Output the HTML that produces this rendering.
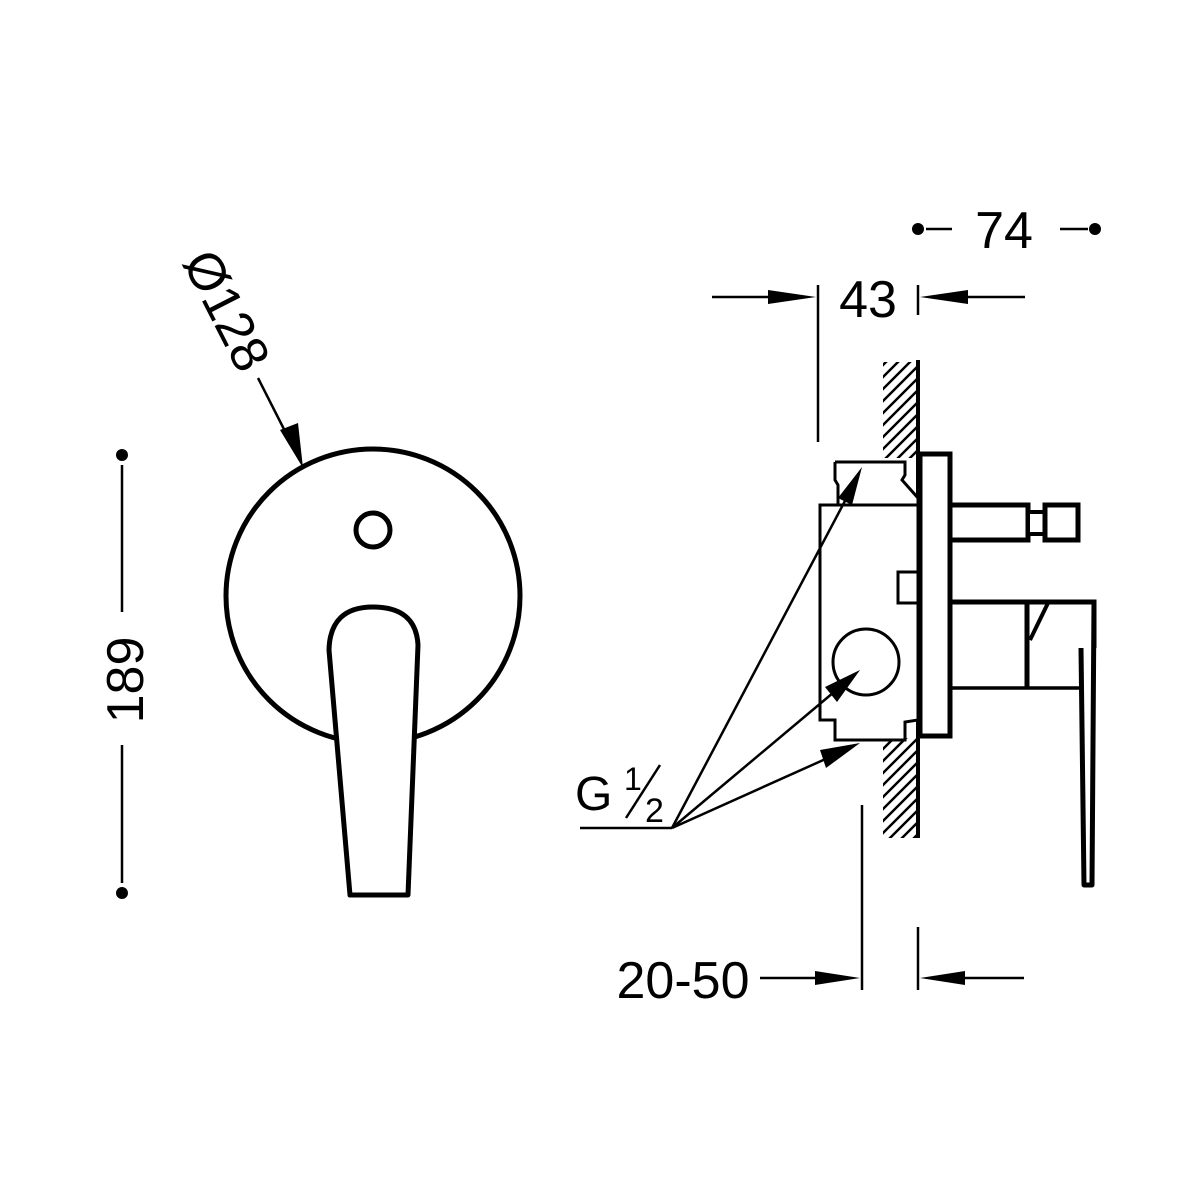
<!DOCTYPE html>
<html><head><style>html,body{margin:0;padding:0;background:#fff}svg{display:block}</style></head>
<body>
<svg width="1200" height="1200" viewBox="0 0 1200 1200" xmlns="http://www.w3.org/2000/svg">
<defs>
<pattern id="h" width="12" height="12" patternUnits="userSpaceOnUse">
<path d="M-3,15 L15,-3 M-3,3 L3,-3 M9,15 L15,9" stroke="#000" stroke-width="2.5"/>
</pattern>
</defs>
<g font-family="Liberation Sans, sans-serif" fill="#000">
<circle cx="373" cy="596" r="147" fill="none" stroke="#000" stroke-width="5"/>
<circle cx="373" cy="530" r="17" fill="none" stroke="#000" stroke-width="5"/>
<path d="M350,895 L408,895 L418,645 Q416,607 373,607 Q330,607 329,650 Z" fill="#fff" stroke="#000" stroke-width="5" stroke-linejoin="round"/>
<circle cx="122" cy="455" r="6"/><circle cx="122" cy="893" r="6"/>
<line x1="122" y1="465" x2="122" y2="612" stroke="#000" stroke-width="2.5"/>
<line x1="122" y1="745" x2="122" y2="883" stroke="#000" stroke-width="2.5"/>
<text x="0" y="0" font-size="52" text-anchor="middle" transform="translate(143,680) rotate(-90)">189</text>
<text x="0" y="0" font-size="52" transform="translate(182,262) rotate(63)">Ø128</text>
<line x1="258" y1="378" x2="292" y2="445" stroke="#000" stroke-width="2.5"/>
<polygon points="303,468 280,430 298,423"/>
<rect x="883" y="362" width="35" height="96" fill="url(#h)"/>
<rect x="883" y="738" width="35" height="100" fill="url(#h)"/>
<line x1="918" y1="360" x2="918" y2="838" stroke="#000" stroke-width="4"/>
<path d="M835,462 L905,462 L905,475 L902,480 L918,498 L918,505 L820,505 L820,720 L835,720 L835,740 L905,740 L905,722 L918,720 L918,505" fill="#fff" stroke="#000" stroke-width="3"/>
<path d="M835,462 L835,480 L838,485 L838,505" fill="none" stroke="#000" stroke-width="3"/>
<rect x="898" y="572" width="20" height="31" fill="#fff" stroke="#000" stroke-width="3"/>
<circle cx="866" cy="662" r="33" fill="none" stroke="#000" stroke-width="3"/>
<rect x="920" y="454" width="30" height="282" fill="#fff" stroke="#000" stroke-width="5"/>
<rect x="950" y="505" width="78" height="35" fill="#fff" stroke="#000" stroke-width="5"/>
<rect x="1028" y="512" width="17" height="22" fill="#fff" stroke="#000" stroke-width="4"/>
<rect x="1045" y="505" width="33" height="35" fill="#fff" stroke="#000" stroke-width="5"/>
<path d="M950,602 L1094,602 L1094,648" fill="none" stroke="#000" stroke-width="5"/>
<line x1="950" y1="688" x2="1080" y2="688" stroke="#000" stroke-width="3.5"/>
<line x1="1027" y1="602" x2="1027" y2="688" stroke="#000" stroke-width="5"/>
<line x1="1048" y1="603" x2="1030" y2="640" stroke="#000" stroke-width="4"/>
<path d="M1094,602 L1092,885 L1084,885 L1081,648" fill="none" stroke="#000" stroke-width="5" stroke-linejoin="round"/>
<circle cx="918" cy="229" r="6"/><circle cx="1095" cy="229" r="6"/>
<line x1="926" y1="229" x2="952" y2="229" stroke="#000" stroke-width="2.5"/>
<line x1="1060" y1="229" x2="1088" y2="229" stroke="#000" stroke-width="2.5"/>
<text x="1004" y="248" font-size="52" text-anchor="middle">74</text>
<line x1="818" y1="285" x2="818" y2="442" stroke="#000" stroke-width="2.5"/>
<line x1="918" y1="285" x2="918" y2="315" stroke="#000" stroke-width="2.5"/>
<line x1="712" y1="297" x2="790" y2="297" stroke="#000" stroke-width="2.5"/>
<polygon points="816,297 768,290 768,304"/>
<line x1="945" y1="297" x2="1025" y2="297" stroke="#000" stroke-width="2.5"/>
<polygon points="920,297 968,290 968,304"/>
<text x="868" y="317" font-size="52" text-anchor="middle">43</text>
<line x1="862" y1="805" x2="862" y2="990" stroke="#000" stroke-width="2.5"/>
<line x1="918" y1="927" x2="918" y2="990" stroke="#000" stroke-width="2.5"/>
<line x1="760" y1="978" x2="840" y2="978" stroke="#000" stroke-width="2.5"/>
<polygon points="860,978 815,971 815,985"/>
<line x1="940" y1="978" x2="1024" y2="978" stroke="#000" stroke-width="2.5"/>
<polygon points="920,978 965,971 965,985"/>
<text x="683" y="998" font-size="52" text-anchor="middle">20-50</text>
<text x="575" y="810" font-size="48">G</text>
<text x="624" y="790" font-size="32">1</text>
<line x1="626" y1="818" x2="660" y2="765" stroke="#000" stroke-width="2.5"/>
<text x="645" y="822" font-size="34">2</text>
<line x1="580" y1="828" x2="672" y2="828" stroke="#000" stroke-width="2.5"/>
<line x1="672" y1="828" x2="855" y2="482" stroke="#000" stroke-width="2.5"/>
<polygon points="862,467 838,498 852,505"/>
<line x1="672" y1="828" x2="840" y2="687" stroke="#000" stroke-width="2.5"/>
<polygon points="860,670 825,687 837,702"/>
<line x1="672" y1="828" x2="830" y2="757" stroke="#000" stroke-width="2.5"/>
<polygon points="860,743 820,750 826,768"/>
</g>
</svg>
</body></html>
